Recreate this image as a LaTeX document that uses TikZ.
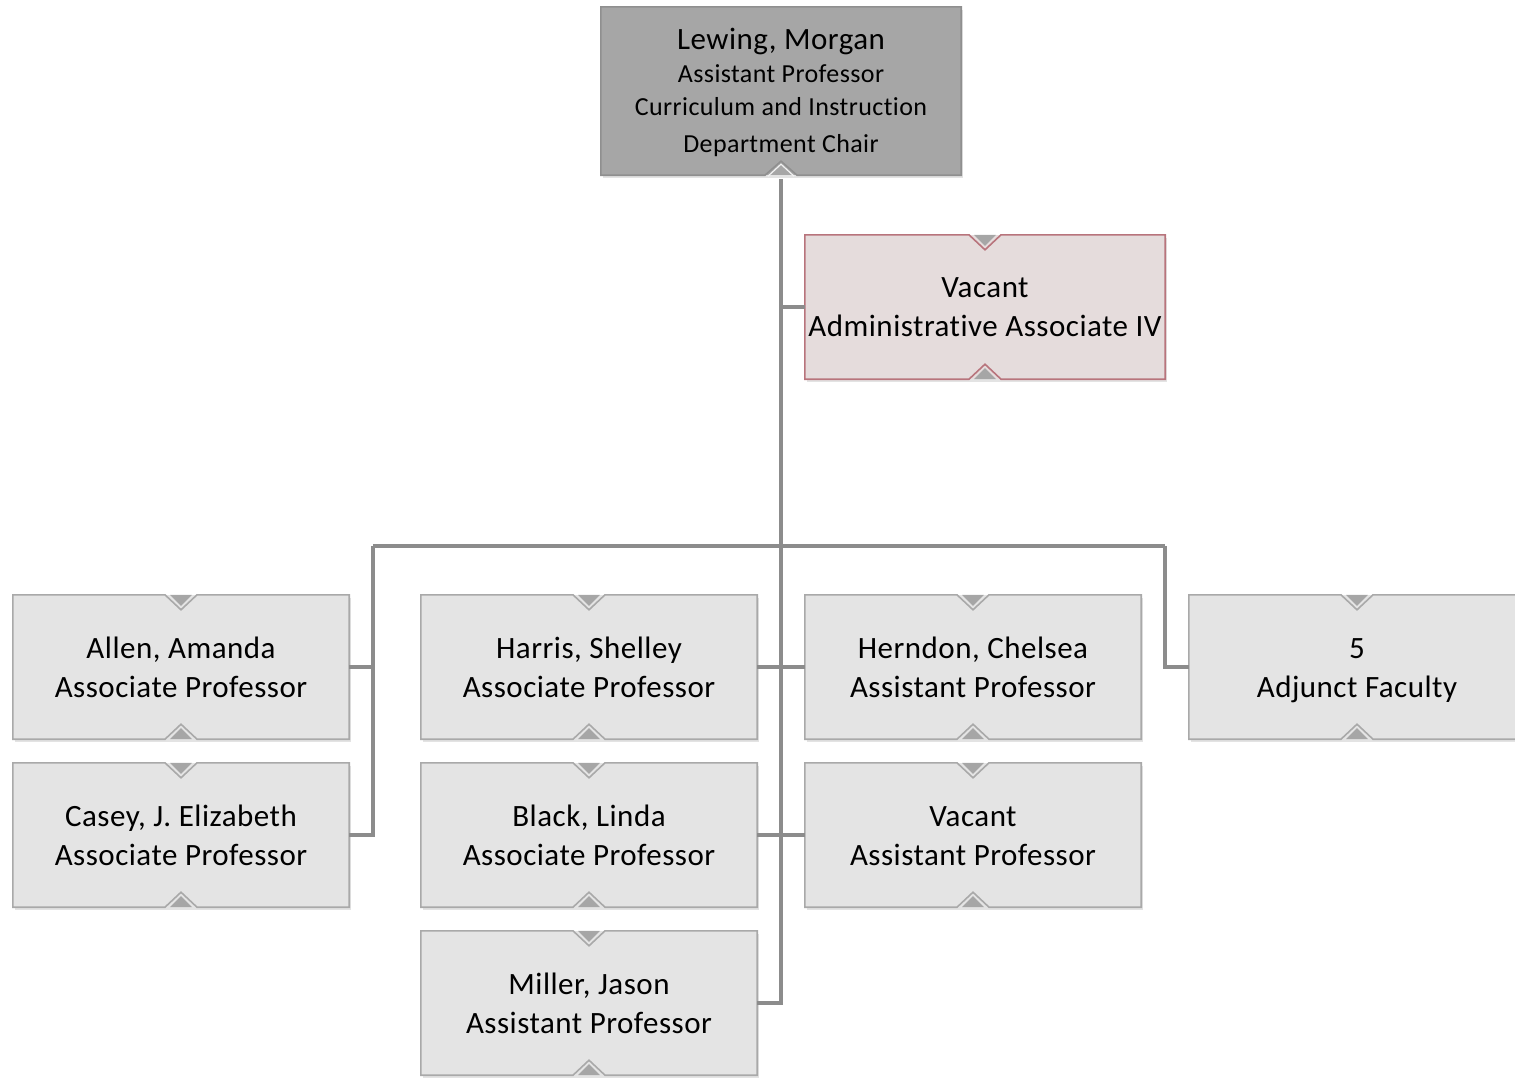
\documentclass[tikz,border=0pt]{standalone}
\usepackage{fontspec}
\setmainfont{Carlito}[LetterSpace=1.6, Ligatures=NoCommon]
\usetikzlibrary{shadows}
\definecolor{boxfill}{HTML}{E4E4E4}
\definecolor{boxline}{HTML}{A9A9A9}
\definecolor{notchfill}{HTML}{A6A6A6}
\definecolor{chairfill}{HTML}{A6A6A6}
\definecolor{chairline}{HTML}{8F8F8F}
\definecolor{adminfill}{HTML}{E5DCDC}
\definecolor{adminline}{HTML}{B8747C}
\definecolor{connc}{HTML}{8C8C8C}
\newcommand\myorgframe[2]{%
  \fill[notchfill] ([xshift=-11pt]#1.north) -- ([xshift=11pt]#1.north) -- ([yshift=-11pt]#1.north) -- cycle;
  \fill[notchfill] ([xshift=-11pt]#1.south) -- ([xshift=11pt]#1.south) -- ([yshift=11pt]#1.south) -- cycle;
  \draw[#2, line width=1.6pt, line join=miter]
    (#1.north west) -- ([xshift=-16pt]#1.north) -- ([yshift=-15pt]#1.north) -- ([xshift=16pt]#1.north)
    -- (#1.north east) -- (#1.south east) -- ([xshift=16pt]#1.south) -- ([yshift=15pt]#1.south)
    -- ([xshift=-16pt]#1.south) -- (#1.south west) -- cycle;
}
\begin{document}
\begin{tikzpicture}[x=1pt,y=-1pt,
  orgbox/.style={rectangle, minimum width=336pt, minimum height=144pt, inner sep=0pt,
    align=center, fill=boxfill, font=\fontsize{31}{39}\selectfont,
    text height=64pt, text depth=4pt,
    drop shadow={opacity=0.22, shadow xshift=2pt, shadow yshift=-3pt}},
  chairbox/.style={orgbox, minimum width=360pt, minimum height=168pt, fill=chairfill,
    font=\fontsize{26}{33}\selectfont, text height=126pt, text depth=4pt},
  adminbox/.style={orgbox, minimum width=360pt, fill=adminfill, text height=62pt, text depth=4pt},
  link/.style={draw=connc, line width=3.4pt},
]
\useasboundingbox (0,0) rectangle (1515,1077);
\clip (0,0) rectangle (1515,1077);

% boxes
\node[chairbox] (chair) at (781,91) {{\fontsize{31}{33}\selectfont Lewing, Morgan}\\Assistant Professor\\Curriculum and Instruction\\[4pt]Department Chair};
\node[adminbox] (admin) at (985,307) {Vacant\\Administrative Associate IV};

\node[orgbox] (allen)   at (181,667)  {Allen, Amanda\\Associate Professor};
\node[orgbox] (casey)   at (181,835)  {Casey, J. Elizabeth\\Associate Professor};
\node[orgbox] (harris)  at (589,667)  {Harris, Shelley\\Associate Professor};
\node[orgbox] (black)   at (589,835)  {Black, Linda\\Associate Professor};
\node[orgbox] (miller)  at (589,1003) {Miller, Jason\\Assistant Professor};
\node[orgbox] (herndon) at (973,667)  {Herndon, Chelsea\\Assistant Professor};
\node[orgbox] (vacant)  at (973,835)  {Vacant\\Assistant Professor};
\node[orgbox] (adjunct) at (1357,667) {5\\Adjunct Faculty};

% frames with notches
\draw[chairline, line width=1.6pt, line join=miter]
  (chair.north west) -- (chair.north east) -- (chair.south east) -- ([xshift=16pt]chair.south)
  -- ([yshift=14pt]chair.south) -- ([xshift=-16pt]chair.south) -- (chair.south west) -- cycle;
\draw[white!85!chairfill, line width=1.2pt] ([xshift=-13pt,yshift=-1pt]chair.south) -- ([yshift=11pt]chair.south) -- ([xshift=13pt,yshift=-1pt]chair.south);
\myorgframe{admin}{adminline}
\foreach \n in {allen,casey,harris,black,miller,herndon,vacant,adjunct}{\myorgframe{\n}{boxline}}

% connectors
\coordinate (busL) at (373,546);
\coordinate (busR) at (1165,546);
\draw[link] ([yshift=-4pt]chair.south) -- (chair.south |- miller.east) -- (miller.east);
\draw[link] (chair.south |- admin.west) -- (admin.west);
\draw[link] (busL) -- (busR);
\draw[link] (busL) |- (casey.east);
\draw[link] (busL |- allen.east) -- (allen.east);
\draw[link] (busR) |- (adjunct.west);
\draw[link] (harris.east) -- (herndon.west);
\draw[link] (black.east) -- (vacant.west);
\end{tikzpicture}
\end{document}
